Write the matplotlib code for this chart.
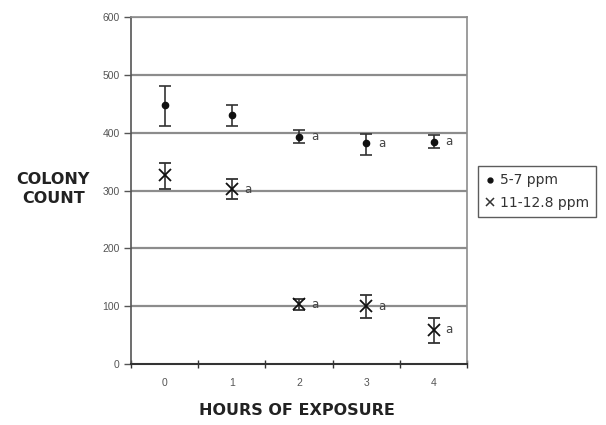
import matplotlib
matplotlib.use("Agg")
import matplotlib.pyplot as plt
from matplotlib.lines import Line2D

plt.rcParams['font.family'] = ['Liberation Sans', 'DejaVu Sans']

hours = ["0", "1", "2", "3", "4"]
low_vals = [447, 430, 393, 382, 384]
low_lo = [411, 411, 382, 361, 373]
low_hi = [480, 448, 405, 397, 396]
low_sig = ["", "", "a", "a", "a"]
high_vals = [327, 302, 103, 100, 59]
high_lo = [303, 285, 93, 79, 36]
high_hi = [347, 320, 112, 119, 80]
high_sig = ["", "a", "a", "a", "a"]
series_names = ["5-7 ppm", "11-12.8 ppm"]

fig = plt.figure(figsize=(6.06, 4.25), dpi=100)
ax = fig.add_axes([0.216, 0.1435, 0.555, 0.8165])
x = list(range(len(hours)))

for yv in range(100, 601, 100):
    ax.axhline(yv, color='#8c8c8c', lw=1.6, zorder=0)

err_low = [[v - l for v, l in zip(low_vals, low_lo)], [h - v for v, h in zip(low_vals, low_hi)]]
err_high = [[v - l for v, l in zip(high_vals, high_lo)], [h - v for v, h in zip(high_vals, high_hi)]]

ax.errorbar(x, low_vals, yerr=err_low, fmt='o', color='#111111', ms=4.5,
            ecolor='#333333', elinewidth=1.2, capsize=4, capthick=1.2)
ax.errorbar(x, high_vals, yerr=err_high, fmt='x', color='#111111', ms=8, mew=1.3,
            ecolor='#333333', elinewidth=1.2, capsize=4, capthick=1.2)

for xi, v, s in zip(x, low_vals, low_sig):
    if s:
        ax.text(xi + 0.18, v, s, fontsize=8.5, va='center', ha='left', color='#444444',
                family='DejaVu Sans')
for xi, v, s in zip(x, high_vals, high_sig):
    if s:
        ax.text(xi + 0.18, v, s, fontsize=8.5, va='center', ha='left', color='#444444',
                family='DejaVu Sans')

ax.set_xlim(-0.5, 4.5)
ax.set_ylim(0, 600)
ax.set_yticks(range(0, 601, 100))
ax.set_xticks(x)
ax.set_xticklabels(hours)
ax.set_xticks([i + 0.5 for i in range(-1, 5)], minor=True)
ax.tick_params(axis='x', which='major', length=0, pad=10, labelsize=7.5, labelcolor='#555555')
ax.tick_params(axis='x', which='minor', length=6, direction='inout', width=1, color='#333333')
ax.tick_params(axis='y', which='major', length=5, direction='out', width=1, labelsize=7.5,
               labelcolor='#555555', color='#555555', pad=3)

for side in ['top', 'right']:
    ax.spines[side].set_color('#8c8c8c')
    ax.spines[side].set_linewidth(1.2)
ax.spines['left'].set_color('#555555')
ax.spines['left'].set_linewidth(1.2)
ax.spines['bottom'].set_color('#333333')
ax.spines['bottom'].set_linewidth(1.5)

fig.text(0.088, 0.555, "COLONY\nCOUNT", ha='center', va='center', fontsize=11.5,
         fontweight='bold', color='#222222', linespacing=1.35, family='DejaVu Sans')
fig.text(0.490, 0.035, "HOURS OF EXPOSURE", ha='center', va='center', fontsize=11.5,
         fontweight='bold', color='#222222', family='DejaVu Sans')

handles = [
    Line2D([], [], marker='o', ls='none', color='#111111', ms=3.5),
    Line2D([], [], marker='x', ls='none', color='#333333', ms=6, mew=1.1),
]
leg = ax.legend(handles, series_names, loc='center left', bbox_to_anchor=(1.032, 0.497),
                prop={'family': 'DejaVu Sans', 'size': 10},
                frameon=True, fancybox=False, edgecolor='#333333', handlelength=0.6,
                handletextpad=0.4, borderpad=0.55, labelspacing=0.6, borderaxespad=0)
leg.get_frame().set_linewidth(1.0)
for t in leg.get_texts():
    t.set_color('#333333')

fig.savefig("out.png", dpi=100)
